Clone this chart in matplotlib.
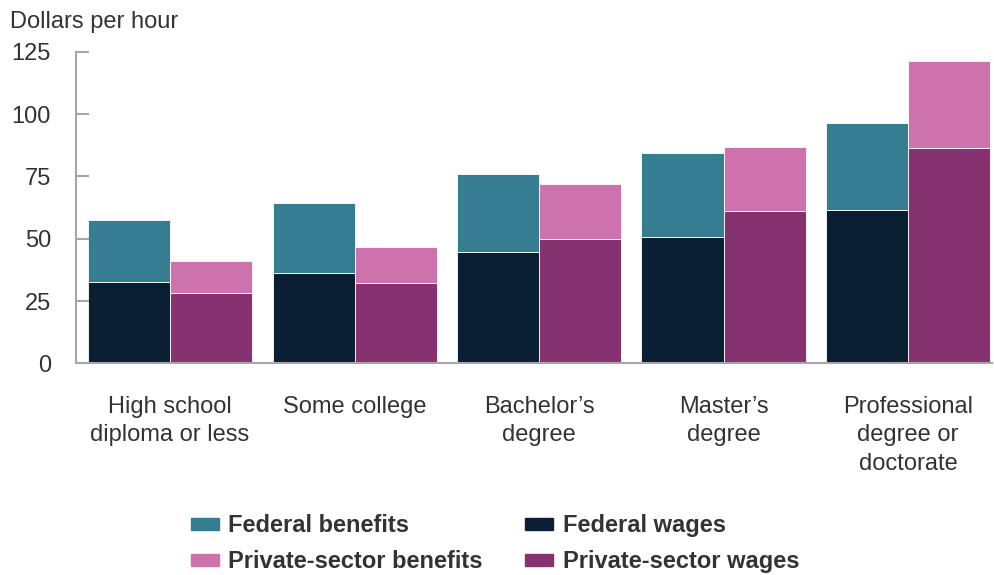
import matplotlib.pyplot as plt
import numpy as np
from matplotlib.patches import Patch

plt.rcParams['font.family'] = ['Liberation Sans', 'DejaVu Sans']

categories = ["High school\ndiploma or less", "Some college", "Bachelor\u2019s\ndegree",
              "Master\u2019s\ndegree", "Professional\ndegree or\ndoctorate"]

# dollars per hour
federal_wages = [32.7, 36.1, 44.5, 50.7, 61.6]
federal_total = [57.5, 64.3, 75.9, 84.2, 96.5]
private_wages = [28.1, 32.1, 50.0, 61.0, 86.2]
private_total = [41.0, 46.5, 71.8, 86.9, 121.1]

federal_benefits = [t - w for t, w in zip(federal_total, federal_wages)]
private_benefits = [t - w for t, w in zip(private_total, private_wages)]

c_fed_ben = "#377d91"
c_fed_wage = "#0a1f33"
c_priv_ben = "#ce72ae"
c_priv_wage = "#873270"

fs = 17
fig = plt.figure(figsize=(9.95, 5.75), dpi=100)
ax = fig.add_axes([0.0764, 0.368, 0.9206, 0.542])

x = np.arange(len(categories))
w = 0.445
ax.bar(x - w / 2, federal_wages, w, color=c_fed_wage, edgecolor="white", linewidth=0.6)
ax.bar(x - w / 2, federal_benefits, w, bottom=federal_wages, color=c_fed_ben,
       edgecolor="white", linewidth=0.6)
ax.bar(x + w / 2, private_wages, w, color=c_priv_wage, edgecolor="white", linewidth=0.6)
ax.bar(x + w / 2, private_benefits, w, bottom=private_wages, color=c_priv_ben,
       edgecolor="white", linewidth=0.6)

ax.set_ylim(0, 125)
ax.set_xlim(-0.51, 4.455)
ax.set_yticks([0, 25, 50, 75, 100, 125])
ax.set_xticks(x)
ax.set_xticklabels(categories, fontsize=fs, color="#333333", linespacing=1.37)

for s in ("top", "right"):
    ax.spines[s].set_visible(False)
for s in ("left", "bottom"):
    ax.spines[s].set_color("#a6a6a6")
    ax.spines[s].set_linewidth(1.5)

ax.tick_params(axis="y", direction="in", length=9, width=1.5, color="#a6a6a6",
               labelsize=fs, labelcolor="#333333", pad=18)
ax.tick_params(axis="x", length=0, pad=23.5)

fig.text(0.01, 0.962, "Dollars per hour", fontsize=fs, color="#333333", va="center")

handles = [Patch(color=c_fed_ben), Patch(color=c_priv_ben),
           Patch(color=c_fed_wage), Patch(color=c_priv_wage)]
labels = ["Federal benefits", "Private-sector benefits", "Federal wages", "Private-sector wages"]
leg = fig.legend(handles, labels, ncol=2, loc="center", bbox_to_anchor=(0.4975, 0.054),
                 frameon=False, handlelength=1.19, handleheight=0.42, columnspacing=1.78,
                 labelspacing=0.55, handletextpad=0.4,
                 prop={"size": fs, "weight": "bold"})
for t in leg.get_texts():
    t.set_color("#333333")

fig.savefig("out.png", dpi=100)
